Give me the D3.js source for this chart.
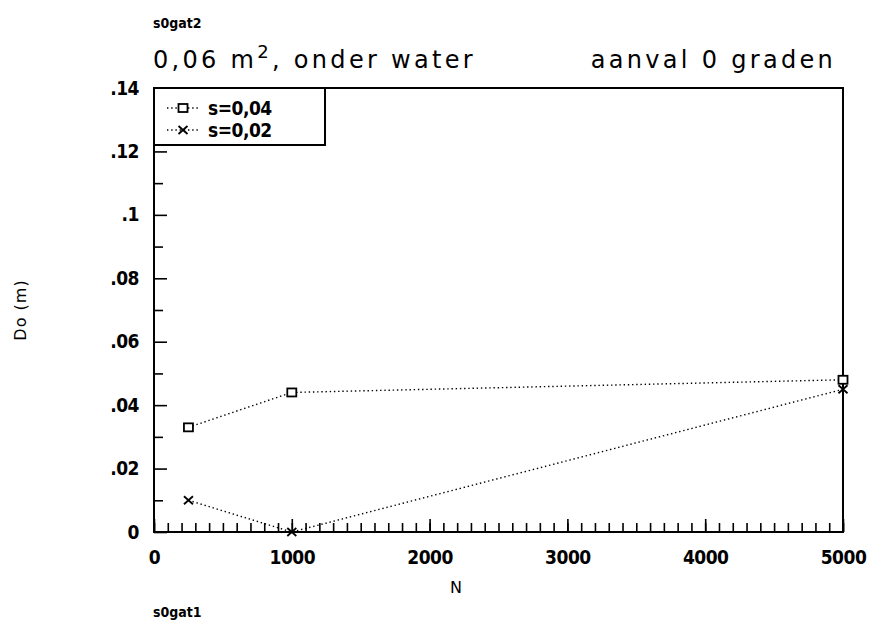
<!DOCTYPE html>
<html>
<head>
<meta charset="utf-8">
<script src="https://cdn.jsdelivr.net/npm/d3@7/dist/d3.min.js"></script>
<style>
  body { margin: 0; background: #fff; }
  svg text { fill: #000; }
  .tick-lbl { font-family: "Liberation Sans Narrow", "DejaVu Sans Condensed", sans-serif; font-weight: bold; }
  .title { font-family: "DejaVu Sans", sans-serif; }
</style>
</head>
<body>
<div id="chart"></div>
<script>
// data
var nValues = [250, 1000, 5000];
var s004 = [0.033, 0.044, 0.048];
var s002 = [0.010, 0.000, 0.045];

var xMajor = [0, 1000, 2000, 3000, 4000, 5000];
var xMajorLabels = ["0", "1000", "2000", "3000", "4000", "5000"];
var xMinor = d3.range(0, 5001, 100);
var yMajor = [0, 0.02, 0.04, 0.06, 0.08, 0.10, 0.12, 0.14];
var yMajorLabels = ["0", ".02", ".04", ".06", ".08", ".1", ".12", ".14"];
var yMinor = [0.01, 0.03, 0.05, 0.07, 0.09, 0.11, 0.13];

var seriesNames = ["s=0,04", "s=0,02"];

var W = 869, H = 627;
var margin = { top: 88, right: 26, bottom: 95, left: 154 };
var width = W - margin.left - margin.right,
    height = H - margin.top - margin.bottom;

var svg = d3.select("#chart").append("svg")
    .attr("width", W)
    .attr("height", H);

var g = svg.append("g")
    .attr("transform", "translate(" + margin.left + "," + margin.top + ")");

var x = d3.scaleLinear().domain([0, 5000]).range([0, width]);
var y = d3.scaleLinear().domain([0, 0.14]).range([height, 0]);

// minor ticks first
g.append("g")
    .attr("transform", "translate(0," + height + ")")
    .call(d3.axisBottom(x).tickValues(xMinor).tickSize(-9).tickFormat(""))
    .call(function (a) { a.select(".domain").remove(); });

g.append("g")
    .call(d3.axisLeft(y).tickValues(yMinor).tickSize(-9).tickFormat(""))
    .call(function (a) { a.select(".domain").remove(); });

// major ticks with labels
var xAxis = g.append("g")
    .attr("transform", "translate(0," + height + ")")
    .call(d3.axisBottom(x).tickValues(xMajor).tickSize(-13).tickPadding(19)
      .tickFormat(function (d, i) { return xMajorLabels[i]; }));
xAxis.select(".domain").remove();

var yAxis = g.append("g")
    .call(d3.axisLeft(y).tickValues(yMajor).tickSize(-13).tickPadding(15)
      .tickFormat(function (d, i) { return yMajorLabels[i]; }));
yAxis.select(".domain").remove();

g.selectAll(".tick line").attr("stroke", "#000").attr("stroke-width", 1.6);
g.selectAll(".tick text").attr("class", "tick-lbl").attr("font-size", 19)
    .attr("letter-spacing", -0.5);

// frame
g.append("rect")
    .attr("width", width)
    .attr("height", height)
    .attr("fill", "none")
    .attr("stroke", "#000")
    .attr("stroke-width", 2);

// lines (dotted, straight between points)
var line = d3.line()
    .x(function (d) { return x(d[0]); })
    .y(function (d) { return y(d[1]); });

[s004, s002].forEach(function (vals) {
  g.append("path")
    .datum(d3.zip(nValues, vals))
    .attr("fill", "none")
    .attr("stroke", "#000")
    .attr("stroke-width", 1.4)
    .attr("stroke-dasharray", "1.4,2.8")
    .attr("d", line);
});

// markers
function square(sel, cx, cy) {
  sel.append("rect")
    .attr("x", cx - 4.5).attr("y", cy - 4)
    .attr("width", 9).attr("height", 8)
    .attr("fill", "#fff").attr("stroke", "#000").attr("stroke-width", 1.8);
}
function cross(sel, cx, cy) {
  sel.append("path")
    .attr("d", "M" + (cx - 4.5) + "," + (cy - 4) + "L" + (cx + 4.5) + "," + (cy + 4) +
               "M" + (cx + 4.5) + "," + (cy - 4) + "L" + (cx - 4.5) + "," + (cy + 4))
    .attr("stroke", "#000").attr("stroke-width", 1.8);
}
nValues.forEach(function (n, i) {
  square(g, x(n), y(s004[i]));
  cross(g, x(n), y(s002[i]));
});

// legend
var leg = g.append("g");
leg.append("rect")
    .attr("x", 0).attr("y", 0)
    .attr("width", 171).attr("height", 57)
    .attr("fill", "#fff").attr("stroke", "#000").attr("stroke-width", 2);
[20, 42].forEach(function (ly, i) {
  leg.append("line")
    .attr("x1", 13).attr("x2", 44).attr("y1", ly).attr("y2", ly)
    .attr("stroke", "#000").attr("stroke-width", 1.4)
    .attr("stroke-dasharray", "1.4,2.8");
  if (i === 0) square(leg, 29, ly); else cross(leg, 29, ly);
  leg.append("text")
    .attr("class", "tick-lbl")
    .attr("x", 54).attr("y", ly + 7)
    .attr("font-size", 19)
    .attr("letter-spacing", -0.5)
    .text(seriesNames[i]);
});

// titles
svg.append("text")
    .attr("class", "tick-lbl")
    .attr("x", 153).attr("y", 28)
    .attr("font-size", 14)
    .text("s0gat2");

var t1 = svg.append("text")
    .attr("class", "title")
    .attr("x", 153).attr("y", 68)
    .attr("font-size", 24)
    .attr("letter-spacing", 3.3);
t1.append("tspan").text("0,06 m");
t1.append("tspan").attr("dy", -10).attr("font-size", 18).text("2");
t1.append("tspan").attr("dy", 10).text(", onder water");

svg.append("text")
    .attr("class", "title")
    .attr("x", 836).attr("y", 68)
    .attr("text-anchor", "end")
    .attr("font-size", 24)
    .attr("letter-spacing", 3.3)
    .text("aanval 0 graden");

svg.append("text")
    .attr("class", "title")
    .attr("x", 456).attr("y", 593)
    .attr("font-size", 16)
    .attr("text-anchor", "middle")
    .text("N");

svg.append("text")
    .attr("class", "tick-lbl")
    .attr("x", 153).attr("y", 617)
    .attr("font-size", 14)
    .text("s0gat1");

svg.append("text")
    .attr("class", "title")
    .attr("transform", "translate(26,310) rotate(-90)")
    .attr("text-anchor", "middle")
    .attr("font-size", 16)
    .attr("letter-spacing", 1)
    .text("Do (m)");
</script>
</body>
</html>
